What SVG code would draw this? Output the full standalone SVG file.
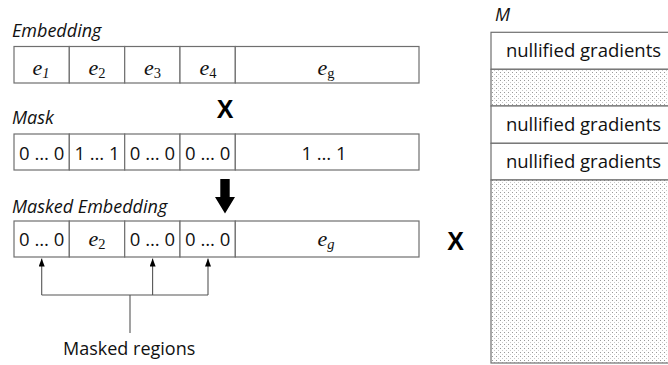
<svg xmlns="http://www.w3.org/2000/svg" width="668" height="365" viewBox="0 0 668 365">
  <style>
    .cell { fill: #ffffff; stroke: #6f6f6f; stroke-width: 1.2; }
    .dots { fill: url(#dotfill); stroke: #6f6f6f; stroke-width: 1.2; }
    .label { font-family: "Open Sans", "Liberation Sans", sans-serif; font-size: 18px; fill: #111; }
    .ital { font-style: italic; }
    .val { font-family: "Open Sans", "Liberation Sans", sans-serif; font-size: 18.5px; fill: #111; text-anchor: middle; }
    .math { font-family: "Liberation Serif", "Times New Roman", serif; font-size: 22px; font-style: italic; fill: #111; text-anchor: middle; }
    .sub { font-size: 14.5px; }
    .up { font-style: normal; }
    .op { font-family: "Liberation Sans", Arial, sans-serif; font-weight: bold; font-size: 25px; fill: #000; text-anchor: middle; }
    .wire { fill: none; stroke: #555555; stroke-width: 1.1; }
  </style>
  <defs>
    <pattern id="dotfill" width="4" height="4" patternUnits="userSpaceOnUse">
      <rect width="4" height="4" fill="#ffffff"/>
      <rect x="0" y="0" width="1" height="1" fill="#9a9a9a"/>
      <rect x="2" y="2" width="1" height="1" fill="#c9c9c9"/>
    </pattern>
    <marker id="tip" viewBox="0 0 8 6" refX="8" refY="3" markerWidth="8" markerHeight="6" markerUnits="userSpaceOnUse" orient="auto">
      <path d="M0,0 L8,3 L0,6 Z" fill="#000"/>
    </marker>
  </defs>

  <!-- Embedding row -->
  <g id="embedding">
    <text class="label ital" x="12" y="37">Embedding</text>
    <rect class="cell" x="14" y="46.5" width="55.3" height="36.5"/>
    <rect class="cell" x="69.3" y="46.5" width="55.4" height="36.5"/>
    <rect class="cell" x="124.7" y="46.5" width="55.3" height="36.5"/>
    <rect class="cell" x="180" y="46.5" width="55.3" height="36.5"/>
    <rect class="cell" x="235.3" y="46.5" width="183.7" height="36.5"/>
    <text class="math" x="41" y="75">e<tspan class="sub" dy="3">1</tspan></text>
    <text class="math" x="97" y="75">e<tspan class="sub up" dy="3">2</tspan></text>
    <text class="math" x="152.5" y="75">e<tspan class="sub up" dy="3">3</tspan></text>
    <text class="math" x="208" y="75">e<tspan class="sub up" dy="3">4</tspan></text>
    <text class="math" x="326" y="75">e<tspan class="sub up" dy="3">g</tspan></text>
  </g>

  <!-- multiply sign between embedding and mask -->
  <text id="times-1" class="op" x="225" y="117.5">X</text>

  <!-- Mask row -->
  <g id="mask">
    <text class="label ital" x="12" y="124">Mask</text>
    <rect class="cell" x="14" y="134" width="55.3" height="36"/>
    <rect class="cell" x="69.3" y="134" width="55.4" height="36"/>
    <rect class="cell" x="124.7" y="134" width="55.3" height="36"/>
    <rect class="cell" x="180" y="134" width="55.3" height="36"/>
    <rect class="cell" x="235.3" y="134" width="183.7" height="36"/>
    <text class="val" x="41.7" y="160">0 … 0</text>
    <text class="val" x="97" y="160">1 … 1</text>
    <text class="val" x="152.4" y="160">0 … 0</text>
    <text class="val" x="207.7" y="160">0 … 0</text>
    <text class="val" x="324" y="160">1 … 1</text>
  </g>

  <!-- result arrow -->
  <path id="result-arrow" d="M220.3,179 H229.7 V197 H235 L225,213.5 L215,197 H220.3 Z" fill="#000"/>

  <!-- Masked embedding row -->
  <g id="masked-embedding">
    <text class="label ital" x="12" y="213">Masked Embedding</text>
    <rect class="cell" x="14" y="221" width="55.3" height="36"/>
    <rect class="cell" x="69.3" y="221" width="55.4" height="36"/>
    <rect class="cell" x="124.7" y="221" width="55.3" height="36"/>
    <rect class="cell" x="180" y="221" width="55.3" height="36"/>
    <rect class="cell" x="235.3" y="221" width="183.7" height="36"/>
    <text class="val" x="41.7" y="246">0 … 0</text>
    <text class="math" x="97" y="246">e<tspan class="sub up" dy="3">2</tspan></text>
    <text class="val" x="152.4" y="246">0 … 0</text>
    <text class="val" x="207.7" y="246">0 … 0</text>
    <text class="math" x="326" y="246">e<tspan class="sub" dy="3">g</tspan></text>
  </g>

  <!-- pointers to masked cells -->
  <g id="connectors">
    <path class="wire" d="M41.7,295 V258.5" marker-end="url(#tip)"/>
    <path class="wire" d="M152.6,295 V258.5" marker-end="url(#tip)"/>
    <path class="wire" d="M208,295 V258.5" marker-end="url(#tip)"/>
    <path class="wire" d="M41.7,295 H208"/>
    <path class="wire" d="M130,295 V333"/>
  </g>
  <text id="masked-regions" class="label" x="63" y="355">Masked regions</text>

  <!-- multiply sign before M -->
  <text id="times-2" class="op" x="455.5" y="250">X</text>

  <!-- matrix M -->
  <g id="matrix-m">
    <text class="label ital" x="495" y="21">M</text>
    <rect class="cell" x="491" y="32.3" width="190" height="37"/>
    <rect class="dots" x="491" y="69.3" width="190" height="36.7"/>
    <rect class="cell" x="491" y="106" width="190" height="37.3"/>
    <rect class="cell" x="491" y="143.3" width="190" height="36.7"/>
    <rect class="dots" x="491" y="180" width="190" height="183"/>
    <text class="val" x="583.5" y="57">nullified gradients</text>
    <text class="val" x="583.5" y="131">nullified gradients</text>
    <text class="val" x="583.5" y="168">nullified gradients</text>
  </g>
</svg>
